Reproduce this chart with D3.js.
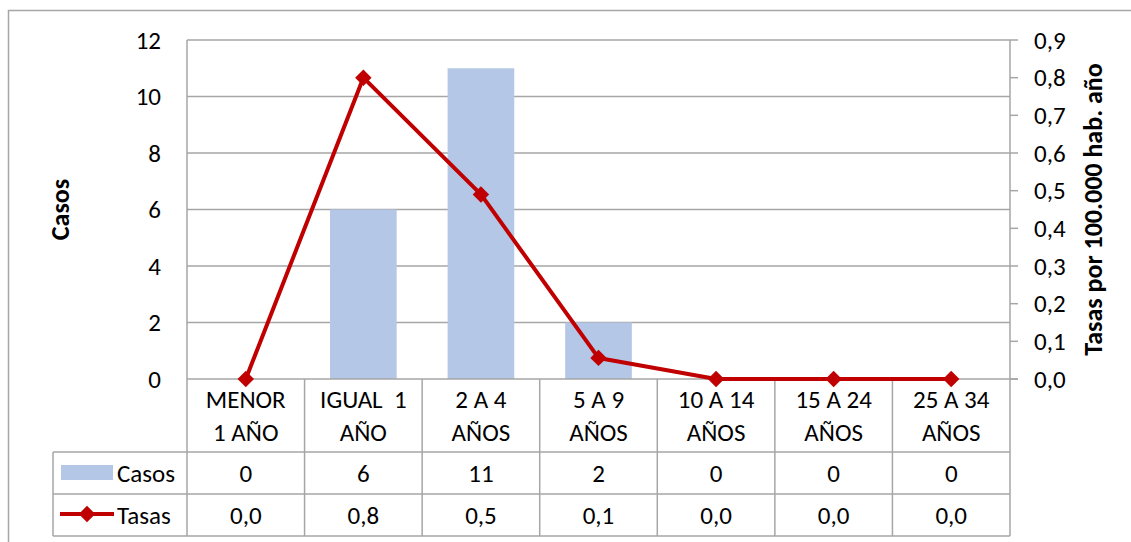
<!DOCTYPE html>
<html>
<head>
<meta charset="utf-8">
<script src="https://cdn.jsdelivr.net/npm/d3@7"></script>
<style>
  body { margin: 0; background: #fff; }
  text { font-family: Carlito, Lato, "Open Sans", sans-serif; fill: #000; }
</style>
</head>
<body>
<div id="chart"></div>
<script>
const width = 1131
const height = 542

// data
const categories = ['MENOR 1 AÑO', 'IGUAL 1 AÑO', '2 A 4 AÑOS', '5 A 9 AÑOS', '10 A 14 AÑOS', '15 A 24 AÑOS', '25 A 34 AÑOS']
const catLines = [['MENOR', '1 AÑO'], ['IGUAL  1', 'AÑO'], ['2 A 4', 'AÑOS'], ['5 A 9', 'AÑOS'], ['10 A 14', 'AÑOS'], ['15 A 24', 'AÑOS'], ['25 A 34', 'AÑOS']]
const casos = [0, 6, 11, 2, 0, 0, 0]
const tasas = [0, 0.80, 0.49, 0.056, 0, 0, 0]
const leftTicks = [0, 2, 4, 6, 8, 10, 12]
const rightTicks = [0, 0.1, 0.2, 0.3, 0.4, 0.5, 0.6, 0.7, 0.8, 0.9]

const plotL = 187, plotR = 1010, plotT = 40, plotB = 379
const rowCat = 452, rowCasos = 494, rowTasas = 536, legendLeft = 53
const grid = '#a6a6a6'
const barColor = '#b4c7e7'
const lineColor = '#c00000'
const fs = 25

const svg = d3.select('#chart').append('svg')
  .attr('width', width)
  .attr('height', height)

// outer frame
svg.append('rect')
  .attr('x', 8.5).attr('y', 10.5)
  .attr('width', width).attr('height', height)
  .attr('fill', 'none').attr('stroke', grid).attr('stroke-width', 1.5)

const x = d3.scaleBand()
  .domain(categories)
  .range([plotL, plotR])
  .paddingInner(0.433)
  .paddingOuter(0.2165)
const step = x.step()
const cx = d => x(d) + x.bandwidth() / 2

const yL = d3.scaleLinear().domain([0, 12]).range([plotB, plotT])
const yR = d3.scaleLinear().domain([0, 0.9]).range([plotB, plotT])

// gridlines
svg.append('g').selectAll('line')
  .data(leftTicks.filter(d => d > 0))
  .enter().append('line')
  .attr('x1', plotL).attr('x2', plotR)
  .attr('y1', d => yL(d)).attr('y2', d => yL(d))
  .attr('stroke', grid).attr('stroke-width', 1.5)

// left axis labels
const fmtL = d3.format('d')
svg.append('g').selectAll('text')
  .data(leftTicks)
  .enter().append('text')
  .attr('x', 161)
  .attr('y', d => yL(d))
  .attr('dy', '0.35em')
  .attr('text-anchor', 'end')
  .style('font-size', fs + 'px')
  .text(d => fmtL(d))

// right axis
const fmtR = d => d3.format('.1f')(d).replace('.', ',')
const rAxis = svg.append('g')
rAxis.selectAll('line')
  .data(rightTicks)
  .enter().append('line')
  .attr('x1', plotR).attr('x2', plotR + 8)
  .attr('y1', d => yR(d)).attr('y2', d => yR(d))
  .attr('stroke', grid).attr('stroke-width', 1.5)
rAxis.selectAll('text')
  .data(rightTicks)
  .enter().append('text')
  .attr('x', 1034)
  .attr('y', d => yR(d))
  .attr('dy', '0.35em')
  .style('font-size', fs + 'px')
  .text(d => fmtR(d))

// axis titles
svg.append('text')
  .attr('transform', `translate(69,${(plotT + plotB) / 2}) rotate(-90)`)
  .attr('text-anchor', 'middle')
  .style('font-size', '26px').style('font-weight', 'bold')
  .text('Casos')
svg.append('text')
  .attr('transform', `translate(1102,${(plotT + plotB) / 2}) rotate(-90)`)
  .attr('text-anchor', 'middle')
  .style('font-size', '26px').style('font-weight', 'bold')
  .text('Tasas por 100.000 hab. año')

// bars
svg.append('g').selectAll('rect')
  .data(categories)
  .enter().append('rect')
  .attr('x', d => x(d))
  .attr('width', x.bandwidth())
  .attr('y', (d, i) => yL(casos[i]))
  .attr('height', (d, i) => plotB - yL(casos[i]))
  .attr('fill', barColor)

// table lines
const tbl = svg.append('g').attr('stroke', grid).attr('stroke-width', 1.5)
tbl.append('line').attr('x1', plotL).attr('x2', plotR + 8).attr('y1', plotB).attr('y2', plotB)
;[rowCat, rowCasos, rowTasas].forEach(yy => {
  tbl.append('line').attr('x1', legendLeft).attr('x2', plotR).attr('y1', yy).attr('y2', yy)
})
tbl.append('line').attr('x1', legendLeft).attr('x2', legendLeft).attr('y1', rowCat).attr('y2', rowTasas)
tbl.append('line').attr('x1', plotL).attr('x2', plotL).attr('y1', plotT).attr('y2', rowTasas)
tbl.append('line').attr('x1', plotR).attr('x2', plotR).attr('y1', plotT).attr('y2', rowTasas)
tbl.selectAll('.sep')
  .data(categories.slice(1))
  .enter().append('line')
  .attr('class', 'sep')
  .attr('x1', d => x(d) - x.paddingInner() * step / 2)
  .attr('x2', d => x(d) - x.paddingInner() * step / 2)
  .attr('y1', plotB).attr('y2', rowTasas)

// category labels
const cats = svg.append('g').selectAll('text')
  .data(categories)
  .enter().append('text')
  .attr('text-anchor', 'middle')
  .style('font-size', fs + 'px')
cats.each(function(d, i) {
  const t = d3.select(this)
  catLines[i].forEach((ln, j) => {
    t.append('tspan')
      .attr('x', cx(d))
      .attr('y', 399 + j * 33)
      .attr('dy', '0.35em')
      .style('white-space', 'pre')
      .text(ln)
  })
})

// table values
svg.append('g').selectAll('text')
  .data(categories)
  .enter().append('text')
  .attr('x', d => cx(d))
  .attr('y', (rowCat + rowCasos) / 2)
  .attr('dy', '0.35em')
  .attr('text-anchor', 'middle')
  .style('font-size', fs + 'px')
  .text((d, i) => casos[i])
svg.append('g').selectAll('text')
  .data(categories)
  .enter().append('text')
  .attr('x', d => cx(d))
  .attr('y', (rowCasos + rowTasas) / 2)
  .attr('dy', '0.35em')
  .attr('text-anchor', 'middle')
  .style('font-size', fs + 'px')
  .text((d, i) => fmtR(tasas[i]))

// line series
const line = d3.line()
  .x(d => cx(d))
  .y((d, i) => yR(tasas[i]))
svg.append('path')
  .datum(categories)
  .attr('d', line)
  .attr('fill', 'none')
  .attr('stroke', lineColor)
  .attr('stroke-width', 4)
  .attr('stroke-linejoin', 'round')

const marker = d3.symbol().type(d3.symbolSquare).size(135)
svg.append('g').selectAll('path')
  .data(categories)
  .enter().append('path')
  .attr('transform', (d, i) => `translate(${cx(d)},${yR(tasas[i])}) rotate(45)`)
  .attr('d', marker)
  .attr('fill', lineColor)

// legend keys in table
svg.append('rect')
  .attr('x', 61).attr('y', 465)
  .attr('width', 52).attr('height', 15)
  .attr('fill', barColor)
svg.append('text')
  .attr('x', 117).attr('y', (rowCat + rowCasos) / 2)
  .attr('dy', '0.35em')
  .style('font-size', fs + 'px')
  .text('Casos')
svg.append('line')
  .attr('x1', 60).attr('x2', 114)
  .attr('y1', 514).attr('y2', 514)
  .attr('stroke', lineColor).attr('stroke-width', 4)
svg.append('path')
  .attr('transform', 'translate(87,514) rotate(45)')
  .attr('d', marker)
  .attr('fill', lineColor)
svg.append('text')
  .attr('x', 117).attr('y', (rowCasos + rowTasas) / 2)
  .attr('dy', '0.35em')
  .style('font-size', fs + 'px')
  .text('Tasas')
</script>
</body>
</html>
